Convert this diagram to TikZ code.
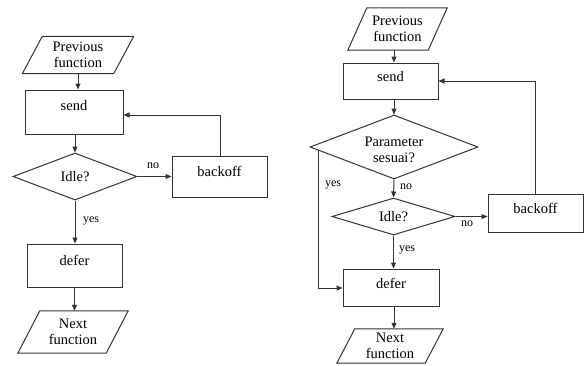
\documentclass[tikz,border=0pt]{standalone}
\usepackage{fontspec}
\setmainfont{Liberation Serif}
\usetikzlibrary{shapes.geometric,arrows.meta,calc}
\newcommand\mainfs{\fontsize{14.5}{16}\selectfont}
\newcommand\lblfs{\fontsize{12}{13}\selectfont}
\tikzset{
  ln/.style={line width=1pt, draw=black!80},
  arr/.style={ln, -{Triangle[length=6pt,width=5pt]}},
  boxnode/.style={ln, rectangle, inner sep=0pt},
  dia/.style={ln, diamond, inner sep=0pt},
  io/.style={rectangle, inner sep=0pt, align=center, font=\mainfs},
  txt/.style={font=\mainfs, inner sep=0pt, align=center},
  lbl/.style={font=\lblfs, inner sep=0pt},
}
\begin{document}
\begin{tikzpicture}[x=1pt,y=-1pt]
\useasboundingbox (0,0) rectangle (586,365);

% ---------- left flowchart ----------
\node[io, minimum width=91pt, minimum height=37pt] (prev1) at (78,55) {Previous\\function};
\draw[ln] ([xshift=10pt]prev1.north west) -- ([xshift=10pt]prev1.north east)
  -- ([xshift=-10pt]prev1.south east) -- ([xshift=-10pt]prev1.south west) -- cycle;

\node[boxnode, minimum width=98pt, minimum height=44pt] (send1) at (74,112) {};
\node[txt] (send1t) at (74,106) {send};

\node[dia, minimum width=124pt, minimum height=47pt] (idle1) at (75,176.5) {};
\node[txt] (idle1t) at (75,177) {Idle?};

\node[boxnode, minimum width=95pt, minimum height=41pt] (backoff1) at (219.5,176.5) {};
\node[txt] (backoff1t) at (219.5,171) {backoff};

\node[boxnode, minimum width=95pt, minimum height=43pt] (defer1) at (74.5,265.5) {};
\node[txt] (defer1t) at (74.5,260) {defer};

\node[io, minimum width=88pt, minimum height=42pt] (next1) at (73,332) {Next\\function};
\draw[ln] ([xshift=11pt]next1.north west) -- ([xshift=11pt]next1.north east)
  -- ([xshift=-11pt]next1.south east) -- ([xshift=-11pt]next1.south west) -- cycle;

\draw[arr] (prev1.south) -- (prev1.south |- send1.north);
\draw[arr] (idle1.north |- send1.south) -- (idle1.north);
\draw[arr] (idle1.east) -- (idle1.east -| backoff1.west);
\node[lbl] (no1) at (153,166) {no};
\draw[arr] (idle1.south) -- (idle1.south |- defer1.north);
\node[lbl] (yes1) at (91,221) {yes};
\coordinate (loop1) at (220,115);
\draw[arr] (backoff1.north -| loop1) -- (loop1) -- (loop1 -| send1.east);
\draw[arr] (defer1.south) -- (defer1.south |- next1.north);

% ---------- right flowchart ----------
\node[io, minimum width=80pt, minimum height=42pt] (prev2) at (397.5,29) {Previous\\function};
\draw[ln] ([xshift=9.5pt]prev2.north west) -- ([xshift=9.5pt]prev2.north east)
  -- ([xshift=-9.5pt]prev2.south east) -- ([xshift=-9.5pt]prev2.south west) -- cycle;

\node[boxnode, minimum width=95pt, minimum height=36pt] (send2) at (390.5,81) {};
\node[txt] (send2t) at (390.5,77) {send};

\node[dia, minimum width=168pt, minimum height=64pt] (param) at (394,147) {};
\node[txt] (paramt) at (394,149.5) {Parameter\\sesuai?};

\node[dia, minimum width=123pt, minimum height=37pt] (idle2) at (393.5,216.5) {};
\node[txt] (idle2t) at (393.5,217) {Idle?};

\node[boxnode, minimum width=95pt, minimum height=38pt] (backoff2) at (535.5,213) {};
\node[txt] (backoff2t) at (535.5,208) {backoff};

\node[boxnode, minimum width=96pt, minimum height=37pt] (defer2) at (391,287.5) {};
\node[txt] (defer2t) at (391,283) {defer};

\node[io, minimum width=88pt, minimum height=34pt] (next2) at (390,346) {Next\\function};
\draw[ln] ([xshift=9pt]next2.north west) -- ([xshift=9pt]next2.north east)
  -- ([xshift=-9pt]next2.south east) -- ([xshift=-9pt]next2.south west) -- cycle;

\draw[arr] (param.north |- prev2.south) -- (param.north |- send2.north);
\draw[arr] (param.north |- send2.south) -- (param.north);
\draw[arr] (param.south) -- (idle2.north);
\node[lbl] (no2) at (406,187) {no};
\draw[arr] (idle2.east) -- (idle2.east -| backoff2.west);
\node[lbl] (no3) at (467,224) {no};
\draw[arr] (idle2.south) -- (idle2.south |- defer2.north);
\node[lbl] (yes2) at (407,250) {yes};
\coordinate (ybr) at ($(param.west)!0.107!(param.south)$);
\coordinate (ybend) at (ybr |- 0,288);
\draw[arr] (ybr) -- (ybend) -- (ybend -| defer2.west);
\node[lbl] (yes3) at (333,185) {yes};
\draw[arr] (backoff2.north) |- (send2.east);
\draw[arr] (param.north |- defer2.south) -- (param.north |- next2.north);
\end{tikzpicture}
\end{document}
